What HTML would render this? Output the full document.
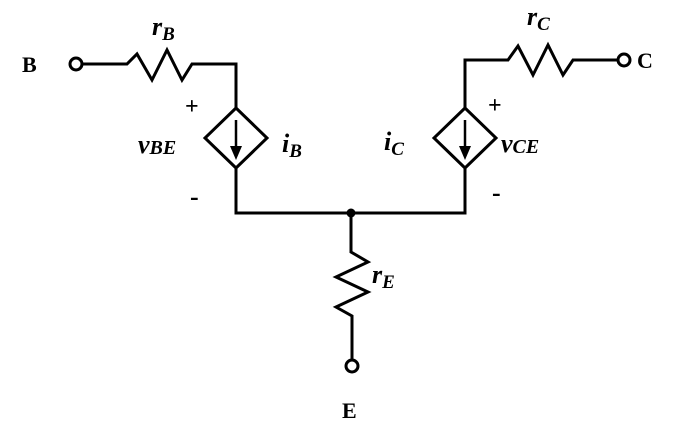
<!DOCTYPE html>
<html><head><style>
html,body{margin:0;padding:0;background:#fff;}
svg{display:block;}
text{font-family:"Liberation Serif",serif;font-weight:bold;fill:#000;}
.it{font-style:italic;}
</style></head><body>
<svg width="694" height="430" viewBox="0 0 694 430" xmlns="http://www.w3.org/2000/svg">
<g fill="none" stroke="#000" stroke-width="3" stroke-linejoin="miter">
<circle cx="76" cy="64" r="6"/>
<polyline points="82,64 127,64 137,54 152,80 167,50 182,80 192,64 236,64 236,108"/>
<polygon points="236,108 267,138 236,168 205,138"/>
<polyline points="236,168 236,213 465,213 465,168"/>
<polygon points="465,108 496,138 465,168 434,138"/>
<polyline points="465,108 465,60 508,60 518,46 533,75 548,45 563,75 573,60 618,60"/>
<circle cx="624" cy="60" r="6"/>
<polyline points="351,213 351,252 368,262 336,277 368,292 336,307 352,316 352,360"/>
<circle cx="352" cy="366" r="6"/>
<line x1="236" y1="120" x2="236" y2="150" stroke-width="2.5"/>
<line x1="465" y1="120" x2="465" y2="150" stroke-width="2.5"/>
</g>
<polygon points="230,146 242,146 236,160" fill="#000"/>
<polygon points="459,146 471,146 465,160" fill="#000"/>
<circle cx="351" cy="213" r="4.5" fill="#000"/>
<text x="22" y="72" font-size="22">B</text>
<text x="637" y="68" font-size="22">C</text>
<text x="342" y="418" font-size="22">E</text>
<text x="152" y="35" font-size="26" class="it">r<tspan font-size="19" dy="5">B</tspan></text>
<text x="527" y="25" font-size="26" class="it">r<tspan font-size="19" dy="5">C</tspan></text>
<text x="372" y="283" font-size="26" class="it">r<tspan font-size="19" dy="5">E</tspan></text>
<text x="185" y="114" font-size="24">+</text>
<text x="488" y="113" font-size="24">+</text>
<text x="190" y="205" font-size="26">-</text>
<text x="492" y="201" font-size="26">-</text>
<text x="138" y="153" font-size="26" class="it">v<tspan font-size="20" dy="1">BE</tspan></text>
<text x="501" y="152" font-size="26" class="it">v<tspan font-size="20" dy="1">CE</tspan></text>
<text x="282" y="152" font-size="26" class="it">i<tspan font-size="19" dy="5">B</tspan></text>
<text x="384" y="150" font-size="26" class="it">i<tspan font-size="19" dy="5">C</tspan></text>
</svg>
</body></html>
